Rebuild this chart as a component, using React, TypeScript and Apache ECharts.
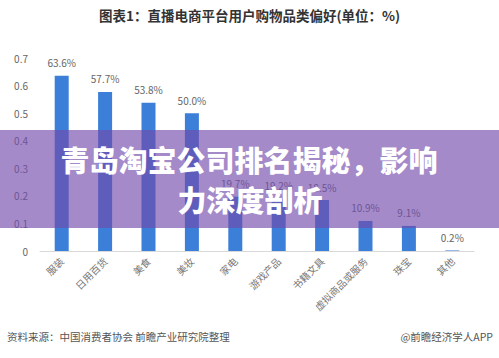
import React, { useEffect, useRef } from "react";
import * as echarts from "echarts";

const categories = ["服装", "日用百货", "美食", "美妆", "家电", "游戏产品", "书籍文具", "虚拟商品或服务", "珠宝", "其他"];
const values = [0.636, 0.577, 0.538, 0.5, 0.197, 0.192, 0.185, 0.109, 0.091, 0.002];
const yTicks = { min: 0, max: 0.7, interval: 0.1 };
const chartTitle = "图表1：直播电商平台用户购物品类偏好(单位：%)";
const sourceText = "资料来源：中国消费者协会 前瞻产业研究院整理";
const brandText = "@前瞻经济学人APP";
const bannerLines = ["青岛淘宝公司排名揭秘，影响", "力深度剖析"];

export default function App() {
  const ref = useRef<HTMLDivElement>(null);
  useEffect(() => {
    if (!ref.current) return;
    const chart = echarts.init(ref.current, null, { renderer: "svg" });
    const font = "'Noto Sans CJK SC', 'Noto Sans', sans-serif";
    chart.setOption({
      animation: false,
      backgroundColor: "#ffffff",
      grid: { left: 40, right: 25, top: 58, bottom: 107, containLabel: false },
      xAxis: {
        type: "category",
        data: categories,
        axisLine: { lineStyle: { color: "#d9d9d9", width: 1 } },
        axisTick: { show: false },
        axisLabel: { rotate: 45, color: "#777", fontSize: 10, fontFamily: font, margin: 8 },
      },
      yAxis: {
        type: "value",
        min: yTicks.min,
        max: yTicks.max,
        interval: yTicks.interval,
        splitLine: { show: false },
        axisLine: { show: false },
        axisTick: { show: false },
        axisLabel: { color: "#666", fontSize: 10, fontFamily: font, margin: 12 },
      },
      series: [
        {
          type: "bar",
          data: values,
          barWidth: 14,
          itemStyle: { color: "#3b7fd9" },
          label: {
            show: true,
            position: "top",
            distance: 8,
            color: "#666",
            fontSize: 10,
            fontFamily: font,
            formatter: (p: any) => (p.value * 100).toFixed(1) + "%",
          },
        },
      ],
      graphic: [
        {
          type: "text",
          left: "center",
          top: 8,
          style: { text: chartTitle, fontSize: 13.5, fontWeight: "bold", fill: "#333", fontFamily: font },
        },
        {
          type: "text",
          left: 7,
          top: 331,
          style: { text: sourceText, fontSize: 10.5, fill: "#555", fontFamily: font },
        },
        {
          type: "text",
          right: 6,
          top: 331,
          style: { text: brandText, fontSize: 10.5, fill: "#555", fontFamily: font },
        },
        {
          type: "rect",
          shape: { x: 0, y: 130, width: 499, height: 98 },
          style: { fill: "rgba(115,76,172,0.65)" },
          z: 100,
        },
        {
          type: "text",
          x: 249,
          y: 159,
          z: 101,
          style: {
            text: bannerLines[0],
            fontSize: 29,
            fontWeight: 900,
            fill: "#ffffff",
            fontFamily: font,
            align: "center",
            verticalAlign: "middle",
          },
        },
        {
          type: "text",
          x: 250,
          y: 199,
          z: 101,
          style: {
            text: bannerLines[1],
            fontSize: 29,
            fontWeight: 900,
            fill: "#ffffff",
            fontFamily: font,
            align: "center",
            verticalAlign: "middle",
          },
        },
      ],
    });
    return () => chart.dispose();
  }, []);
  return <div ref={ref} style={{ width: 499, height: 358, position: "absolute", left: 0, top: 0 }} />;
}
